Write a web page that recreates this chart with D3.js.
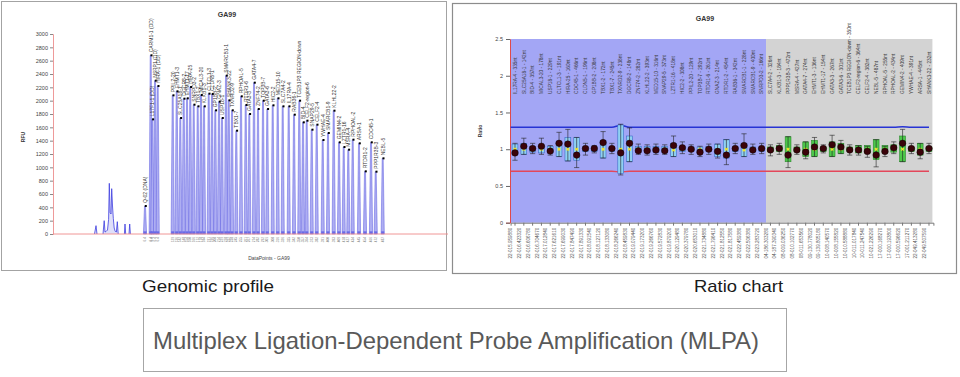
<!DOCTYPE html>
<meta charset="utf-8">
<style>
  body { margin: 0; background: #fff; }
  svg text { font-family: "Liberation Sans", Arial, sans-serif; }
</style>
<script src="https://d3js.org/d3.v7.min.js"></script>
<svg id="chart" width="960" height="377"></svg>
<script>

// ---------- genomic profile (left) ----------
const rfuTicks = [0, 200, 400, 600, 800, 1000, 1200, 1400, 1600, 1800, 2000, 2200, 2400, 2600, 2800, 3000];

// control fragments
const ctrlNames = ["Q-02 (DNA)", "CARM1-1 (DD)", "L17F1-1 (DD)", "NSPP1 (DD)", "HIRA-1 (DD)"];
const ctrlDp = [920, 977, 993, 1020, 1047];
const ctrlRfu = [420, 2680, 1720, 2300, 2220];

// probe peaks, in size order
const peakNames = ["PPIL2-20", "EHMT1-3", "SLC25A18-1", "DGCR8-2", "EHMT1-17", "HIRA-25", "SNRPD3-2", "TBX1-2",
  "MICAL3-20", "KLKB1-3", "CLTCL1-3", "CLDN5-1", "GP1BB-2", "GNAZ-3", "USP18-1", "SMARCB1-1", "SHANK3-22",
  "TXNRD2-9", "TBX1-7", "RPHOAL-5", "RTDR1-6", "GATA3-3", "GATA4-7", "ZNF74-2", "TOP3B-7", "GATA3-6", "HIC2-2",
  "MED15-10", "SLC7A4-2", "IL17RA-4", "RAB36-1", "TCEB1P3 REGION-down", "BID-4", "CELF2-region-6", "SNAP29-5",
  "CELF2-4", "YWHAE-4", "SMARCB1-9", "KLHL22-2", "GEMIN4-2", "LZTR1-16", "MSRA-4", "RPHOAL-2", "ARSA-1",
  "RTDR1-2", "CDC45-1", "PPP1R3B-3", "NEBL-5"];
const peakSize = ["129", "136", "142", "148", "154", "160", "166", "172", "178", "184", "191", "196", "208", "214",
  "229", "228", "232", "238", "245", "255", "261", "267", "274", "282", "292", "301", "308", "316", "326", "335",
  "342", "350", "357", "364", "373", "382", "391", "400", "393", "409", "418", "427", "434", "445", "454", "466",
  "472", "487"];
const peakDp = [1197, 1237, 1273, 1307, 1340, 1373, 1407, 1447, 1480, 1510, 1557, 1590, 1623, 1660, 1690, 1730,
  1757, 1790, 1833, 1880, 1927, 1963, 2010, 2050, 2100, 2143, 2197, 2247, 2297, 2357, 2410, 2463, 2500, 2537,
  2587, 2637, 2697, 2750, 2807, 2860, 2907, 2953, 2997, 3060, 3120, 3180, 3227, 3297];
const peakRfu = [2080, 2140, 1740, 2030, 2035, 2205, 1940, 1915, 2085, 1915, 2105, 2100, 1855, 1985, 1740, 2375,
  2005, 1855, 1550, 2065, 1935, 1800, 2270, 1875, 2000, 1875, 1930, 2035, 1915, 1915, 1790, 2000, 1675, 1700,
  1565, 1640, 1410, 1515, 1850, 1375, 1305, 1265, 1415, 1360, 940, 1375, 935, 1135];

// primer / noise trace (NaN breaks the line)
const noiseDp = [415, 430, 440, NaN, 500, 512, 520, 532, 545, 556, 563, 571, 580, 587, 595, 603, 612, 622, 634, 643, 652, NaN,
  714, 720, 727, NaN, 760, 767, 774, NaN, 2292, 2300, 2307];
const noiseRfu = [0, 125, 0, NaN, 0, 200, 30, 40, 60, 220, 760, 320, 300, 680, 420, 235, 90, 40, 30, 185, 0, NaN,
  0, 150, 0, NaN, 0, 150, 0, NaN, 0, 350, 0];

// ---------- ratio chart (right) ----------
const ratioTicks = [0, 0.5, 1, 1.5, 2, 2.5];
const targetCount = 29; // first 29 probes are chr22 target region

const probeNames = ["IL17RA-4 - 335nt", "SLC25A18-1 - 142nt", "BID-4 - 357nt", "MICAL3-20 - 178nt", "USP18-1 - 229nt",
  "CLTCL1-3 - 191nt", "HIRA-25 - 160nt", "CDC45-1 - 466nt", "CLDN5-1 - 196nt", "GP1BB-2 - 208nt", "TBX1-2 - 172nt",
  "TBX1-7 - 245nt", "TXNRD2-9 - 238nt", "DGCR8-2 - 148nt", "ZNF74-2 - 282nt", "KLHL22-2 - 393nt", "MED15-10 - 316nt",
  "SNAP29-5 - 373nt", "LZTR1-16 - 418nt", "HIC2-2 - 308nt", "PPIL2-20 - 129nt", "TOP3B-7 - 292nt", "RTDR1-6 - 261nt",
  "GNAZ-3 - 214nt", "RTDR1-2 - 454nt", "RAB36-1 - 342nt", "SMARCB1-1 - 228nt", "SMARCB1-9 - 400nt", "SNRPD3-2 - 166nt",
  "SLC7A4-2 - 326nt", "KLKB1-3 - 184nt", "PPP1R3B-3 - 472nt", "MSRA-4 - 427nt", "GATA4-7 - 274nt", "EHMT1-3 - 136nt",
  "EHMT1-17 - 154nt", "GATA3-3 - 267nt", "GATA3-6 - 301nt", "TCEB1P3 REGION-down - 350nt", "CELF2-region-6 - 364nt",
  "CELF2-4 - 382nt", "NEBL-5 - 487nt", "RPHOAL-5 - 255nt", "RPHOAL-2 - 434nt", "GEMIN4-2 - 409nt", "YWHAE-4 - 391nt",
  "ARSA-1 - 445nt", "SHANK3-22 - 232nt"];
const probeLoci = ["22-015.959880", "22-016.423320", "22-016.606780", "22-016.704670", "22-017.012840", "22-017.621610",
  "22-017.699030", "22-017.847490", "22-017.891330", "22-018.091540", "22-018.127120", "22-018.133080", "22-018.266240",
  "22-018.459830", "22-019.079440", "22-019.173200", "22-019.266760", "22-019.572830", "22-019.879200", "22-020.129480",
  "22-020.379780", "22-020.653010", "22-021.734880", "22-021.796410", "22-021.812550", "22-021.817580", "22-022.459380",
  "22-022.506380", "22-023.283720", "04-186.303280", "04-187.390340", "08-009.036250", "08-010.102770", "08-011.653560",
  "09-130.778020", "09-139.805180", "10-008.140570", "10-008.155820", "10-010.588880", "10-011.017840", "10-011.247540",
  "10-021.226290", "17-000.168270", "17-000.193800", "17-000.596620", "17-001.211270", "22-049.413280", "22-049.507590"];
const sampleRatio = [0.95, 1.04, 1.01, 1.04, 0.975, 1.08, 1.07, 0.92, 1.01, 1.01, 1.09, 1.01, 0.95, 1.08, 0.98, 0.98,
  0.99, 0.98, 1.05, 1.02, 1.0, 0.96, 1.0, 0.97, 0.92, 1.01, 1.05, 0.99, 1.01, 0.99, 1.01, 0.92, 0.99, 0.96, 1.03,
  1.01, 1.06, 1.03, 0.99, 0.99, 0.97, 0.92, 0.97, 1.02, 1.08, 1.01, 0.96, 1.01];
const medianRatio = [1.0, 1.0, 1.0, 1.0, 1.0, 1.0, 1.0, 1.0, 1.0, 1.0, 1.0, 1.0, 1.0, 1.0, 1.0, 1.0,
  1.0, 1.0, 0.99, 1.0, 1.0, 1.0, 1.0, 0.99, 1.0, 1.0, 0.99, 1.0, 1.0, 1.0, 1.0, 1.0, 1.0, 1.0, 1.0,
  1.0, 1.0, 1.0, 1.0, 1.0, 1.0, 1.0, 1.0, 1.0, 1.0, 1.0, 1.0, 1.0];
const boxHigh = [1.07, 1.08, 1.04, 1.05, 1.04, 1.10, 1.16, 1.16, 1.03, 1.03, 1.12, 1.03, 1.33, 1.18, 1.04, 1.04,
  1.04, 1.04, 1.08, 1.04, 1.03, 1.03, 1.04, 1.07, 1.13, 1.03, 1.08, 1.03, 1.03, 1.03, 1.05, 1.17, 1.03, 1.10, 1.12,
  1.03, 1.10, 1.08, 1.03, 1.05, 1.05, 1.13, 1.05, 1.06, 1.18, 1.03, 1.08, 1.03];
const boxLow = [0.93, 0.93, 0.96, 0.95, 0.95, 0.90, 0.84, 0.85, 0.97, 0.97, 0.88, 0.97, 0.67, 0.83, 0.96, 0.96,
  0.96, 0.96, 0.90, 0.97, 0.97, 0.96, 0.97, 0.90, 0.88, 0.97, 0.90, 0.97, 0.97, 0.97, 0.97, 0.83, 0.97, 0.90, 0.90,
  0.97, 0.90, 0.94, 0.97, 0.95, 0.95, 0.86, 0.95, 0.96, 0.83, 0.97, 0.92, 0.97];
const whiskHigh = [1.08, 1.15, 1.08, 1.15, 1.05, 1.23, 1.27, 1.16, 1.08, 1.05, 1.24, 1.08, 1.34, 1.29, 1.07, 1.06,
  1.07, 1.06, 1.18, 1.10, 1.06, 1.04, 1.07, 1.07, 1.13, 1.08, 1.21, 1.07, 1.08, 1.06, 1.08, 1.17, 1.06, 1.10, 1.16,
  1.06, 1.19, 1.12, 1.06, 1.05, 1.04, 1.13, 1.04, 1.10, 1.27, 1.08, 1.08, 1.08];
const whiskLow = [0.85, 0.93, 0.94, 0.93, 0.92, 0.90, 0.84, 0.75, 0.92, 0.95, 0.88, 0.94, 0.65, 0.83, 0.93, 0.92,
  0.93, 0.93, 0.90, 0.94, 0.93, 0.90, 0.93, 0.88, 0.79, 0.94, 0.90, 0.93, 0.94, 0.91, 0.93, 0.75, 0.93, 0.87, 0.90,
  0.95, 0.90, 0.94, 0.92, 0.92, 0.89, 0.76, 0.90, 0.94, 0.83, 0.94, 0.87, 0.94];
const upperLimit = [1.30, 1.30, 1.30, 1.30, 1.30, 1.30, 1.30, 1.30, 1.30, 1.30, 1.30, 1.30, 1.325, 1.30, 1.30, 1.30,
  1.30, 1.30, 1.30, 1.30, 1.30, 1.30, 1.30, 1.30, 1.30, 1.30, 1.30, 1.30, 1.30, 1.30, 1.30, 1.30, 1.30, 1.30, 1.30,
  1.30, 1.30, 1.30, 1.30, 1.30, 1.30, 1.30, 1.30, 1.30, 1.305, 1.30, 1.30, 1.30];
const lowerLimit = [0.70, 0.70, 0.70, 0.70, 0.70, 0.70, 0.70, 0.70, 0.70, 0.70, 0.70, 0.70, 0.69, 0.70, 0.70, 0.70,
  0.70, 0.70, 0.70, 0.70, 0.70, 0.70, 0.70, 0.70, 0.70, 0.70, 0.70, 0.70, 0.70, 0.70, 0.70, 0.70, 0.70, 0.70, 0.70,
  0.70, 0.70, 0.70, 0.70, 0.70, 0.70, 0.70, 0.70, 0.70, 0.70, 0.70, 0.70, 0.70];

const svg = d3.select("#chart");

// ================= LEFT PANEL =================
svg.append("rect")
  .attr("x", 1.5).attr("y", 1.5).attr("width", 445).attr("height", 269)
  .attr("fill", "#fff").attr("stroke", "#a3a3a3");

const xL = d3.scaleLinear().domain([0, 3950]).range([53, 448]);
const yL = d3.scaleLinear().domain([0, 3000]).range([234, 34]);

const left = svg.append("g");

left.append("text").attr("x", 227).attr("y", 17).attr("text-anchor", "middle")
  .attr("font-size", 7).attr("font-weight", "bold").attr("fill", "#333").text("GA99");

left.append("text").attr("transform", "translate(25,137) rotate(-90)").attr("text-anchor", "middle")
  .attr("font-size", 5).attr("font-weight", "bold").attr("fill", "#333").text("RFU");

left.append("text").attr("x", 269).attr("y", 260).attr("text-anchor", "middle")
  .attr("font-size", 5).attr("fill", "#444").text("DataPoints - GA99");

const yAxisL = left.append("g")
  .attr("transform", "translate(53,0)")
  .call(d3.axisLeft(yL).tickValues(rfuTicks).tickFormat(d3.format("d")).tickSize(3).tickPadding(2));
yAxisL.select(".domain").attr("stroke", "#ee9a9a");
yAxisL.selectAll(".tick line").attr("stroke", "#888");
yAxisL.selectAll(".tick text").attr("font-size", 5.5).attr("fill", "#444")
  .style("font-family", "'Liberation Sans', Arial, sans-serif");

// noise trace
const noiseLine = d3.line()
  .defined((d, i) => !isNaN(noiseDp[i]))
  .x((d, i) => xL(noiseDp[i]))
  .y((d, i) => yL(noiseRfu[i]));
left.append("path")
  .attr("d", noiseLine(noiseDp))
  .attr("fill", "#c9c9f5").attr("fill-opacity", 0.6)
  .attr("stroke", "#3d3de0").attr("stroke-width", 0.8);

// all peaks (controls + probes)
const allPeaks = ctrlNames.map((n, i) => ({ name: n, dp: ctrlDp[i], rfu: ctrlRfu[i], size: "" }))
  .concat(peakNames.map((n, i) => ({ name: n, dp: peakDp[i], rfu: peakRfu[i], size: peakSize[i] })));

const peakG = left.append("g");
peakG.selectAll("path")
  .data(allPeaks)
  .join("path")
  .attr("d", d => {
    const x = xL(d.dp), y0 = yL(0), y1 = yL(d.rfu);
    return `M${x - 1.6},${y0} L${x - 0.5},${y1} L${x + 0.5},${y1} L${x + 1.6},${y0} Z`;
  })
  .attr("fill", "#aeaef2")
  .attr("stroke", "#5a5ae0")
  .attr("stroke-width", 0.5);

// x axis baseline
left.append("line")
  .attr("x1", xL(0)).attr("x2", xL(3950))
  .attr("y1", yL(0)).attr("y2", yL(0))
  .attr("stroke", "#ee8a8a").attr("stroke-width", 0.9);

// small blips at peak bases
peakG.selectAll("rect.base")
  .data(allPeaks)
  .join("rect")
  .attr("class", "base")
  .attr("x", d => xL(d.dp) - 1.5).attr("y", yL(40))
  .attr("width", 3).attr("height", yL(0) - yL(40))
  .attr("fill", "#6a6ae6");

peakG.selectAll("rect.dot")
  .data(allPeaks)
  .join("rect")
  .attr("class", "dot")
  .attr("x", d => xL(d.dp) - 0.2).attr("y", d => yL(d.rfu) - 1)
  .attr("width", 2).attr("height", 2)
  .attr("fill", "#000");

peakG.selectAll("text.lab")
  .data(allPeaks)
  .join("text")
  .attr("class", "lab")
  .attr("transform", d => `translate(${xL(d.dp) + 1.8},${yL(d.rfu) - 3}) rotate(-90)`)
  .attr("font-size", 5)
  .attr("fill", "#333")
  .text(d => d.name);

peakG.selectAll("text.sz")
  .data(allPeaks)
  .join("text")
  .attr("class", "sz")
  .attr("transform", d => `translate(${xL(d.dp) + 1},${yL(0) + 3}) rotate(-90)`)
  .attr("text-anchor", "end")
  .attr("font-size", 3.2)
  .attr("fill", "#777")
  .text(d => d.size === "" ? "6.4" : d.size);

// ================= RIGHT PANEL =================
svg.append("rect")
  .attr("x", 452.5).attr("y", 3.5).attr("width", 504).attr("height", 270)
  .attr("fill", "#fff").attr("stroke", "#8c8c8c").attr("stroke-width", 1.2);

const idx = d3.range(probeNames.length);
const xR = d3.scaleBand().domain(idx).range([510.6, 933.4]);
const yR = d3.scaleLinear().domain([0, 2.5]).range([222.7, 39]);
const bw = xR.bandwidth();

const right = svg.append("g");

right.append("rect")
  .attr("x", xR(0)).attr("y", yR(2.5))
  .attr("width", xR(targetCount) - xR(0)).attr("height", yR(0) - yR(2.5))
  .attr("fill", "#a3a6f5");
right.append("rect")
  .attr("x", xR(targetCount)).attr("y", yR(2.5))
  .attr("width", xR.range()[1] - xR(targetCount) - 1).attr("height", yR(0) - yR(2.5))
  .attr("fill", "#d3d3d3");

right.append("text").attr("x", 705).attr("y", 21).attr("text-anchor", "middle")
  .attr("font-size", 7).attr("font-weight", "bold").attr("fill", "#333").text("GA99");
right.append("text").attr("transform", "translate(482,131) rotate(-90)").attr("text-anchor", "middle")
  .attr("font-size", 5).attr("font-weight", "bold").attr("fill", "#333").text("Ratio");

const yAxisR = right.append("g")
  .attr("transform", "translate(510,0)")
  .call(d3.axisLeft(yR).tickValues(ratioTicks).tickFormat(d3.format("")).tickSize(4).tickPadding(3));
yAxisR.select(".domain").attr("stroke", "#e04a4a");
yAxisR.selectAll(".tick line").attr("stroke", "#666");
yAxisR.selectAll(".tick text").attr("font-size", 5.5).attr("fill", "#444")
  .style("font-family", "'Liberation Sans', Arial, sans-serif");

const xAxisR = right.append("g")
  .attr("transform", `translate(0,${yR(0)})`)
  .call(d3.axisBottom(xR).tickFormat(i => probeLoci[i]).tickSize(3).tickPadding(2));
xAxisR.select(".domain").attr("stroke", "#777");
xAxisR.selectAll(".tick line").attr("stroke", "#777");
xAxisR.selectAll(".tick text")
  .attr("font-size", 4.6).attr("fill", "#555")
  .attr("text-anchor", "end")
  .attr("transform", "translate(-4.5,5) rotate(-90)")
  .attr("dy", "0.35em").attr("y", 0)
  .style("font-family", "'Liberation Sans', Arial, sans-serif");

// probe names above
right.selectAll("text.probe")
  .data(idx)
  .join("text")
  .attr("class", "probe")
  .attr("transform", i => `translate(${xR(i) + bw / 2 + 1.7},94) rotate(-90)`)
  .attr("font-size", 4.8)
  .attr("fill", "#3a3a3a")
  .text(i => probeNames[i]);

// limit lines
const limitLine = arr => d3.line()
  .x(i => (i === 0 ? xR(0) : xR(i) + bw / 2))
  .y(i => yR(arr[i]))
  .curve(d3.curveMonotoneX);
right.append("path").attr("d", limitLine(upperLimit)(idx))
  .attr("fill", "none").attr("stroke", "#2633d4").attr("stroke-width", 1.6);
right.append("path").attr("d", limitLine(lowerLimit)(idx))
  .attr("fill", "none").attr("stroke", "#e3475a").attr("stroke-width", 1.4);

// boxes
const boxW = bw * 0.66;
const probeG = right.selectAll("g.probe")
  .data(idx)
  .join("g")
  .attr("class", "probe")
  .attr("transform", i => `translate(${xR(i) + bw / 2},0)`);

probeG.append("rect")
  .attr("x", -boxW / 2)
  .attr("y", i => yR(boxHigh[i]))
  .attr("width", boxW)
  .attr("height", i => yR(boxLow[i]) - yR(boxHigh[i]))
  .attr("fill", i => (i < targetCount ? "#8fd0f2" : "#4cc84a"))
  .attr("stroke", i => (i < targetCount ? "#3c6cc8" : "#2b8a2b"))
  .attr("stroke-width", 0.6);

// whiskers
probeG.append("line")
  .attr("y1", i => yR(whiskHigh[i])).attr("y2", i => yR(whiskLow[i]))
  .attr("stroke", "#222").attr("stroke-width", 0.6);
probeG.append("line")
  .attr("x1", -2.6).attr("x2", 2.6)
  .attr("y1", i => yR(whiskHigh[i])).attr("y2", i => yR(whiskHigh[i]))
  .attr("stroke", "#222").attr("stroke-width", 0.6);
probeG.append("line")
  .attr("x1", -2.6).attr("x2", 2.6)
  .attr("y1", i => yR(whiskLow[i])).attr("y2", i => yR(whiskLow[i]))
  .attr("stroke", "#222").attr("stroke-width", 0.6);

// median marker
probeG.append("path")
  .attr("d", d3.symbol().type(d3.symbolCross).size(7))
  .attr("transform", i => `translate(0,${yR(medianRatio[i])}) rotate(45)`)
  .attr("fill", "#f5e42a");

// sample ratio
probeG.append("circle")
  .attr("cy", i => yR(sampleRatio[i]))
  .attr("r", 3.3)
  .attr("fill", "#3a0309")
  .attr("stroke", "#000").attr("stroke-width", 0.4);

// ================= CAPTIONS =================
svg.append("text").attr("x", 142).attr("y", 292)
  .attr("font-size", 17).attr("fill", "#1a1a1a")
  .attr("textLength", 132).attr("lengthAdjust", "spacingAndGlyphs")
  .text("Genomic profile");
svg.append("text").attr("x", 694).attr("y", 292)
  .attr("font-size", 17).attr("fill", "#1a1a1a")
  .attr("textLength", 89).attr("lengthAdjust", "spacingAndGlyphs")
  .text("Ratio chart");

svg.append("rect")
  .attr("x", 143.5).attr("y", 308.5).attr("width", 643).attr("height", 63)
  .attr("fill", "none").attr("stroke", "#a6a6a6");
svg.append("text").attr("x", 153).attr("y", 349)
  .attr("font-size", 24).attr("fill", "#595959")
  .attr("textLength", 606).attr("lengthAdjust", "spacingAndGlyphs")
  .text("Multiplex Ligation-Dependent Probe Amplification (MLPA)");

</script>
